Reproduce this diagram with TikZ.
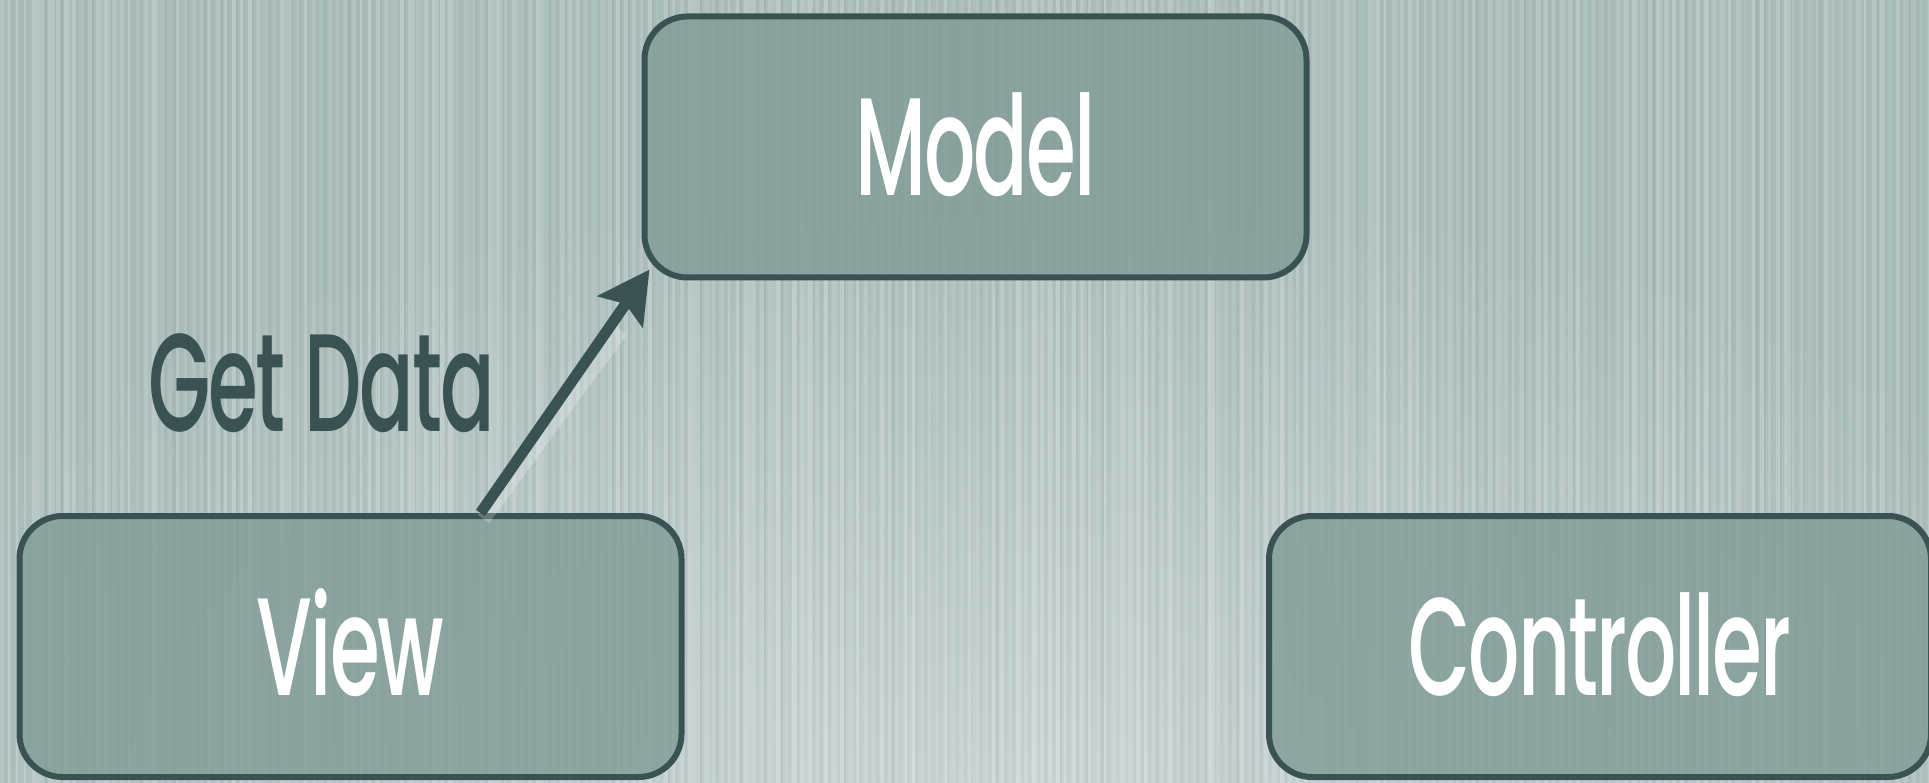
\documentclass[tikz,border=0pt]{standalone}
\usepackage{fontspec}
\newfontfamily\futfont{Poppins Medium}[FakeStretch=0.58, LetterSpace=-1.5]
\usetikzlibrary{arrows.meta,calc}
\definecolor{bgc}{HTML}{A9BCBA}
\definecolor{glowc}{HTML}{C8D4D4}
\definecolor{boxc}{RGB}{128,155,150}
\definecolor{darkc}{HTML}{3A5352}
\begin{document}
\begin{tikzpicture}[x=1pt,y=-1pt,
  mvc/.style={draw=darkc, line width=6pt, rounded corners=43pt, fill=boxc,
    fill opacity=0.8, text opacity=1, text=white,
    font=\futfont\fontsize{139}{139}\selectfont,
    text height=97pt, text depth=0pt, inner sep=0pt,
    minimum width=662pt, minimum height=261pt},
  lbl/.style={text=darkc, font=\futfont\fontsize{139}{139}\selectfont,
    text height=97pt, text depth=0pt, inner sep=0pt},
  getarrow/.style={draw=darkc, line width=11pt,
    -{Stealth[length=51pt,width=54pt,inset=9pt]}},
  glowline/.style={draw=white, opacity=0.22, line width=14pt}]
\useasboundingbox (0,0) rectangle (1929,783);
\fill[bgc] (0,0) rectangle (1929,783);
\begin{scope}
  \clip (0,0) rectangle (1929,783);
  \shade[inner color=glowc, outer color=bgc] (1000,800) ellipse [x radius=1200, y radius=620];
  \pgfmathsetseed{12}
  \foreach \i in {0,...,241}{
    \pgfmathsetmacro\op{0.05+0.17*rnd}
    \pgfmathsetmacro\wd{2+6*rnd}
    \fill[white, opacity=\op] (8*\i,0) rectangle ++(\wd,783);
    \pgfmathsetmacro\opb{0.01+0.04*rnd}
    \fill[black, opacity=\opb] (8*\i+4,0) rectangle ++(\wd/2,783);
  }
\end{scope}
\node[mvc] (model) at (975.5,147) {Model};
\node[mvc] (view) at (350.5,646.5) {View};
\node[mvc] (controller) at (1600,646.5) {Controller};
\node[lbl] (getdata) at (321.5,383) {Get Data};
\draw[glowline] ([xshift=133pt,yshift=-6pt]view.north) -- ($(model.south west)+(-20,50)$);
\draw[getarrow] ([xshift=130pt]view.north) -- ($(model.south west)+(8,-11)$);
\end{tikzpicture}
\end{document}
